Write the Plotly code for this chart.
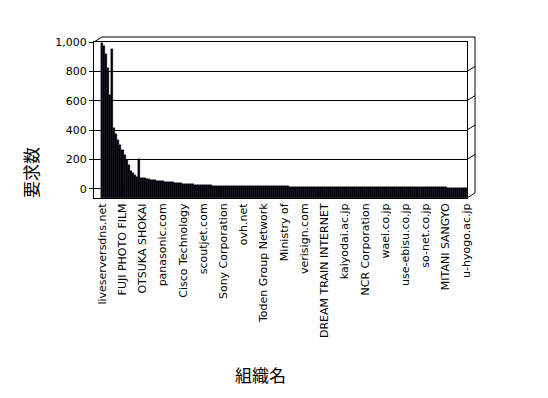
import plotly.graph_objects as go

# ---- data ----
tick_labels = [
    "liveserversdns.net", "FUJI PHOTO FILM", "OTSUKA SHOKAI", "panasonic.com",
    "Cisco Technology", "scoutjet.com", "Sony Corporation", "ovh.net",
    "Toden Group Network", "Ministry of", "verisign.com", "DREAM TRAIN INTERNET",
    "kaiyodai.ac.jp", "NCR Corporation", "waei.co.jp", "use-ebisu.co.jp",
    "so-net.co.jp", "MITANI SANGYO", "u-hyogo.ac.jp",
]
label_step = 10

requests = [
    995, 975, 920, 825, 640, 950, 415, 370, 335, 300, 265, 230, 198, 165,
    120, 107, 95, 80, 205, 75, 75, 72,
    66, 64, 62, 60,
    57, 55, 54, 53,
    50, 48, 47, 46, 45, 44,
    40, 38, 37, 36, 35,
    33, 32, 31, 30, 30, 29, 28,
    26, 25, 25, 24, 24, 23, 23, 22, 22, 22, 21, 21, 21,
    20, 20, 20, 19, 19, 19, 19, 19, 18, 18, 18, 18, 18, 18, 18, 17, 17,
    17, 17, 17, 17, 17, 17, 16, 16, 16, 16, 16, 16, 16, 16, 16, 15,
    14, 14, 14, 14, 14, 14, 14, 14, 14, 14, 14, 14, 14, 14, 14, 14, 14, 14, 14, 14,
    13, 13, 13, 13, 13, 13, 13, 13, 13, 13, 13, 13, 13, 13, 13, 13, 13, 13, 13, 13,
    12, 12, 12, 12, 12, 12, 12, 12, 12, 12, 12, 12, 12, 12, 12, 12, 12, 12, 12, 12,
    11, 11, 11, 11, 11, 11, 11, 11, 11, 11, 11, 11, 11, 11, 11, 11, 11,
    7, 7, 6, 6, 6, 5, 5, 5, 5, 4,
]
y_ticks = [0, 200, 400, 600, 800, 1000]
y_title = "要求数"
x_title = "組織名"

# ---- layout constants (page body has an 8px margin) ----
OFF = 8
W, H = 540, 390
ML, MR, MT, MB = 94 - OFF, 81, 42 - OFF, 200
PW, PH = W - ML - MR, H - MT - MB
y_floor = -63
y_top = 1000
DX, DY = 8, 5  # 3D depth offset in px
dxp = DX / PW
dyp = DY / PH
dy_val = DY * (y_top - y_floor) / PH

positions = list(range(len(requests)))
tickvals = [i * label_step for i in range(len(tick_labels))]

fig = go.Figure(
    go.Bar(
        x=positions,
        y=[v - y_floor for v in requests],
        base=y_floor,
        marker=dict(color="#000000", line=dict(color="#000022", width=0.4)),
        hoverinfo="skip",
    )
)

shapes = []
line = dict(color="black", width=1)
shapes.append(dict(type="line", xref="paper", yref="paper", x0=0, y0=1, x1=dxp, y1=1 + dyp, line=line))
shapes.append(dict(type="line", xref="paper", yref="paper", x0=dxp, y0=1 + dyp, x1=1 + dxp, y1=1 + dyp, line=line))
shapes.append(dict(type="line", xref="paper", yref="paper", x0=1 + dxp, y0=1 + dyp, x1=1 + dxp, y1=dyp, line=line))
shapes.append(dict(type="line", xref="paper", yref="paper", x0=1, y0=0, x1=1 + dxp, y1=dyp, line=line))
for v in y_ticks[1:]:
    shapes.append(dict(type="line", xref="paper", yref="y", x0=1, y0=v, x1=1 + dxp, y1=v + dy_val, line=line))


def px_to_paper_x(px):
    return (px - OFF - ML) / PW


def px_to_paper_y(py):
    return 1 - (py - OFF - MT) / PH


cjk = "Noto Sans CJK JP"
fig.update_layout(
    width=W, height=H, autosize=False,
    margin=dict(l=ML, r=MR, t=MT, b=MB, pad=0),
    paper_bgcolor="white", plot_bgcolor="white",
    bargap=0,
    showlegend=False,
    font=dict(family="DejaVu Sans", size=11, color="black"),
    xaxis=dict(
        range=[-4.1, len(requests) - 0.5],
        tickmode="array", tickvals=tickvals, ticktext=tick_labels,
        tickangle=-90, ticks="", showgrid=False, zeroline=False,
        showline=True, mirror=True, linecolor="black", linewidth=1,
        tickfont=dict(family="DejaVu Sans", size=11, color="black"),
    ),
    yaxis=dict(
        range=[y_floor, y_top],
        tickmode="array", tickvals=y_ticks, tickformat=",",
        ticks="outside", ticklen=4, tickcolor="black",
        showgrid=True, gridcolor="black", gridwidth=1, zeroline=False,
        showline=True, mirror=True, linecolor="black", linewidth=1,
        tickfont=dict(family="DejaVu Sans", size=11, color="black"),
    ),
    shapes=shapes,
    annotations=[
        dict(text=y_title, xref="paper", yref="paper",
             x=px_to_paper_x(30), y=px_to_paper_y(173),
             xanchor="center", yanchor="middle", textangle=-90, showarrow=False,
             font=dict(family=cjk, size=17, color="black")),
        dict(text=x_title, xref="paper", yref="paper",
             x=px_to_paper_x(260), y=px_to_paper_y(374),
             xanchor="center", yanchor="middle", showarrow=False,
             font=dict(family=cjk, size=17, color="black")),
    ],
)

fig.write_html("out.html")
